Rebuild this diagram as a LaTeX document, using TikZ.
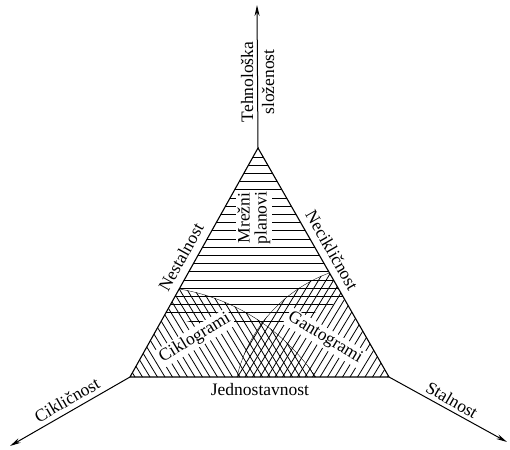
\documentclass[tikz,border=0pt]{standalone}
\usepackage{fontspec}
\setmainfont{Liberation Serif}
\usetikzlibrary{arrows.meta}
\begin{document}
\begin{tikzpicture}[x=1pt,y=-1pt,
  edge/.style={line width=1.1pt},
  hatchline/.style={line width=0.8pt},
  arcline/.style={line width=0.7pt},
  axisarrow/.style={line width=1pt,-{Stealth[length=11pt,width=5pt]}},
  lbl/.style={font=\fontsize{17.5}{21}\selectfont, inner sep=1pt},
  blank/.style={lbl, fill=white, inner sep=2pt}]
\useasboundingbox (0,0) rectangle (510,449);
\coordinate (A) at (258,148);
\coordinate (B) at (130,377);
\coordinate (C) at (389,377);
\coordinate (Up) at (257,5);
\coordinate (Lf) at (10,446);
\coordinate (Rt) at (507,442);
\coordinate (Ocl) at (145,492);
\coordinate (Ocr) at (379.8,410.9);
\coordinate (Oct) at (237,111);
% top region: horizontal hatching
\begin{scope}
  \clip (A) -- (B) -- (C) -- cycle;
  \clip (Oct) circle [radius=216pt];
  \foreach \k in {0,...,21} \draw[hatchline] (120,157+8.2*\k) -- (400,157+8.2*\k);
\end{scope}
% left region: "\" hatching
\begin{scope}
  \clip (A) -- (B) -- (C) -- cycle;
  \clip (Ocl) circle [radius=206pt];
  \foreach \k in {0,...,36} \draw[hatchline] (120+7.5*\k+6,387) -- (120+7.5*\k-121,177);
  \draw[arcline] (Ocl) circle [radius=206pt];
\end{scope}
% right region: "/" hatching
\begin{scope}
  \clip (A) -- (B) -- (C) -- cycle;
  \clip (Ocr) circle [radius=147pt];
  \foreach \k in {0,...,36} \draw[hatchline] (140+7.5*\k-6,387) -- (140+7.5*\k+121,177);
  \draw[arcline] (Ocr) circle [radius=147pt];
\end{scope}
% labels inside
\node[blank, rotate=90, align=center] (mp) at (254,218) {Mrežni\\[-4pt]planovi};
\node[blank, rotate=31] (ck) at (195,338) {Ciklogrami};
\node[blank, rotate=-31] (gt) at (325,338) {Gantogrami};
% triangle and axes
\draw[edge] (A) -- (B) -- (C) -- cycle;
\draw[axisarrow] (A) -- (Up);
\draw[axisarrow] (B) -- (Lf);
\draw[axisarrow] (C) -- (Rt);
% outer labels
\node[lbl, rotate=90, align=center] (tl) at (257.5,82) {Tehnološka\\složenost};
\node[lbl, rotate=60.8] (ns) at (181,257) {Nestalnost};
\node[lbl, rotate=-60.2] (nc) at (332,250) {Necikličnost};
\node[lbl] (jd) at (260,390) {Jednostavnost};
\node[lbl, rotate=30] (cl) at (67,400) {Cikličnost};
\node[lbl, rotate=-30] (st) at (452,400) {Stalnost};
\end{tikzpicture}
\end{document}
